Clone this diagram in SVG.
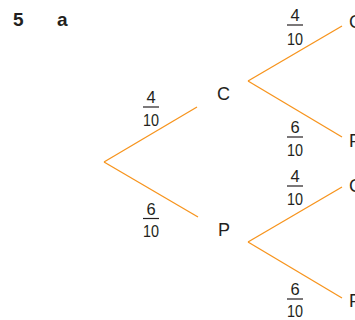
<svg xmlns="http://www.w3.org/2000/svg" width="355" height="320" viewBox="0 0 355 320">
<style>
.title{font-family:"Liberation Sans",Arial,sans-serif;font-weight:bold;font-size:19px;fill:#231f20}
.lbl{font-family:"Liberation Sans",Arial,sans-serif;font-size:18px;fill:#231f20}
.num{font-family:"Liberation Sans",Arial,sans-serif;font-size:16.5px;fill:#231f20;text-anchor:middle}
.bar{stroke:#231f20;stroke-width:1.2}
.edge{stroke:#f7941d;stroke-width:1.3;fill:none}
</style>
<rect width="355" height="320" fill="#ffffff"/>
<text class="title" x="13" y="25.5">5</text>
<text class="title" x="57" y="25.5">a</text>
<g id="connectors">
<line class="edge" x1="104" y1="162" x2="197" y2="107"/>
<line class="edge" x1="104" y1="162" x2="198" y2="217"/>
<line class="edge" x1="248" y1="81" x2="342" y2="26"/>
<line class="edge" x1="248" y1="81" x2="342" y2="137"/>
<line class="edge" x1="248" y1="242" x2="342" y2="187"/>
<line class="edge" x1="248" y1="242" x2="342" y2="298"/>
</g>
<g id="labels">
<g id="f1"><text class="num" x="151" y="103">4</text><line class="bar" x1="143" y1="107" x2="159" y2="107"/><text class="num" x="151" y="126" textLength="16" lengthAdjust="spacingAndGlyphs">10</text></g>
<g id="f2"><text class="num" x="151" y="215">6</text><line class="bar" x1="143" y1="218.5" x2="159" y2="218.5"/><text class="num" x="151" y="237" textLength="16" lengthAdjust="spacingAndGlyphs">10</text></g>
<g id="f3"><text class="num" x="295" y="20.5">4</text><line class="bar" x1="287" y1="25" x2="303" y2="25"/><text class="num" x="295" y="45" textLength="16" lengthAdjust="spacingAndGlyphs">10</text></g>
<g id="f4"><text class="num" x="295" y="133">6</text><line class="bar" x1="287" y1="137" x2="303" y2="137"/><text class="num" x="295" y="156" textLength="16" lengthAdjust="spacingAndGlyphs">10</text></g>
<g id="f5"><text class="num" x="295" y="182">4</text><line class="bar" x1="287" y1="186" x2="303" y2="186"/><text class="num" x="295" y="205" textLength="16" lengthAdjust="spacingAndGlyphs">10</text></g>
<g id="f6"><text class="num" x="295" y="295">6</text><line class="bar" x1="287" y1="299" x2="303" y2="299"/><text class="num" x="295" y="317" textLength="16" lengthAdjust="spacingAndGlyphs">10</text></g>
</g>
<g id="node-C1"><text class="lbl" x="217" y="100">C</text></g>
<g id="node-P1"><text class="lbl" x="218" y="236">P</text></g>
<g id="node-C2"><text class="lbl" x="349" y="28">C</text></g>
<g id="node-P2"><text class="lbl" x="349" y="147">P</text></g>
<g id="node-C3"><text class="lbl" x="349" y="192">C</text></g>
<g id="node-P3"><text class="lbl" x="349" y="307">P</text></g>
</svg>
